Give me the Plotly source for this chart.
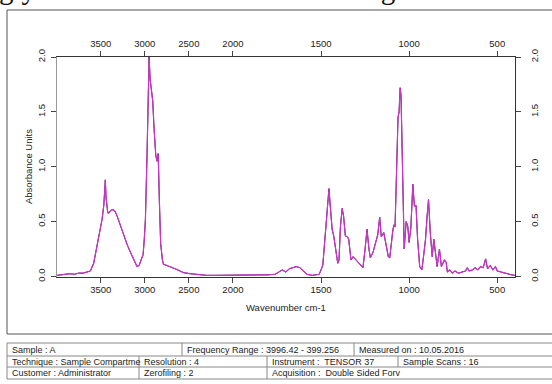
import plotly.graph_objects as go

# ---------------- data ----------------
wavenumber = [3996, 3950, 3900, 3850, 3800, 3750, 3700, 3650, 3618, 3580, 3542, 3510,
              3485, 3465, 3455, 3448, 3440, 3430, 3420, 3405, 3390, 3360, 3335, 3314,
              3280, 3238, 3200, 3163, 3120, 3088, 3065, 3050, 3030, 3019, 3005, 2993,
              2975, 2962, 2951, 2940, 2925, 2910, 2895, 2875, 2860, 2848, 2835, 2820,
              2800, 2788, 2750, 2712, 2680, 2656, 2600, 2562, 2486, 2400, 2300, 2200,
              2100, 2000, 1900, 1800, 1760, 1720, 1700, 1680, 1660, 1640, 1620, 1600,
              1580, 1550, 1510, 1490, 1481, 1470, 1460, 1455, 1448, 1437, 1428, 1415,
              1405, 1398, 1390, 1380, 1372, 1362, 1350, 1343, 1330, 1318, 1300, 1277,
              1262, 1250, 1239, 1228, 1220, 1205, 1191, 1178, 1167, 1158, 1144, 1129,
              1118, 1110, 1101, 1094, 1087, 1080, 1074, 1068, 1063, 1057, 1051, 1046,
              1041, 1034, 1028, 1017, 1008, 1000, 990, 979, 970, 961, 952, 940,
              928, 917, 907, 898, 890, 880, 869, 860, 852, 841, 828, 817,
              800, 790, 783, 770, 755, 740, 720, 700, 680, 670, 660, 640,
              625, 610, 595, 580, 566, 555, 540, 525, 510, 500, 480, 460,
              440, 420, 400]
absorbance = [0.01, 0.015, 0.02, 0.025, 0.02, 0.03, 0.03, 0.04, 0.05, 0.12, 0.28, 0.40,
              0.52, 0.65, 0.78, 0.88, 0.72, 0.62, 0.58, 0.58, 0.60, 0.61, 0.59, 0.55,
              0.47, 0.37, 0.29, 0.22, 0.14, 0.09, 0.10, 0.13, 0.17, 0.20, 0.35, 0.52,
              1.10, 1.70, 2.00, 1.80, 1.70, 1.60, 1.35, 1.10, 1.05, 1.12, 0.70, 0.30,
              0.15, 0.11, 0.10, 0.09, 0.08, 0.07, 0.05, 0.035, 0.025, 0.015, 0.01, 0.01,
              0.01, 0.01, 0.01, 0.015, 0.02, 0.06, 0.04, 0.07, 0.08, 0.09, 0.08, 0.05,
              0.02, 0.01, 0.02, 0.10, 0.28, 0.50, 0.72, 0.80, 0.65, 0.43, 0.37, 0.20,
              0.12, 0.15, 0.45, 0.62, 0.55, 0.37, 0.36, 0.34, 0.15, 0.18, 0.15, 0.11,
              0.08, 0.25, 0.43, 0.25, 0.17, 0.22, 0.31, 0.38, 0.54, 0.36, 0.40, 0.25,
              0.18, 0.17, 0.33, 0.40, 0.47, 0.45, 0.80, 1.25, 1.45, 1.50, 1.72, 1.65,
              1.25, 0.64, 0.25, 0.50, 0.46, 0.31, 0.45, 0.84, 0.64, 0.65, 0.34, 0.09,
              0.06, 0.20, 0.34, 0.55, 0.70, 0.40, 0.18, 0.34, 0.22, 0.09, 0.25, 0.09,
              0.15, 0.13, 0.04, 0.06, 0.03, 0.05, 0.03, 0.04, 0.05, 0.08, 0.05, 0.06,
              0.08, 0.06, 0.09, 0.08, 0.16, 0.07, 0.10, 0.06, 0.09, 0.05, 0.04, 0.03,
              0.02, 0.015, 0.01]

x_ticks = [3500, 3000, 2500, 2000, 1500, 1000, 500]
x_tick_labels = ["3500", "3000", "2500", "2000", "1500", "1000", "500"]
y_ticks = [0, 0.5, 1.0, 1.5, 2.0]
y_tick_labels = ["0.0", "0.5", "1.0", "1.5", "2.0"]

wn_start, wn_end = 3996.42, 399.256

table_rows = [
    [("Sample : A", 7), ("Frequency Range : 3996.42 - 399.256", 182), ("Measured on : 10.05.2016", 354)],
    [("Technique : Sample Compartme", 7), ("Resolution : 4", 139), ("Instrument :  TENSOR 37", 267), ("Sample Scans : 16", 398)],
    [("Customer : Administrator", 7), ("Zerofiling : 2", 139), ("Acquisition :  Double Sided Forv", 267)],
]

# OPUS style axis: above 2000 cm-1 the scale is compressed by a factor of two
def scale(w):
    return w if w <= 2000 else 2000 + (w - 2000) / 2.0

xs = [scale(w) for w in wavenumber]

W, H = 552, 384
ML, MR, MT, MB = 57, 37, 57, 107
PW, PH = W - ML - MR, H - MT - MB


def px(x):
    return (x - ML) / PW


def py(y):
    return (H - MB - y) / PH


fig = go.Figure()
fig.add_trace(go.Scatter(x=xs, y=absorbance, mode="lines",
                         line=dict(color="#301830", width=1.0), hoverinfo="skip",
                         showlegend=False))
fig.add_trace(go.Scatter(x=xs, y=absorbance, mode="lines",
                         line=dict(color="#cc33cc", width=1.2), hoverinfo="skip",
                         showlegend=False))
# invisible trace for the top / right axes
fig.add_trace(go.Scatter(x=[scale(wn_start)], y=[0], xaxis="x2", yaxis="y2",
                         mode="markers", marker=dict(opacity=0), hoverinfo="skip",
                         showlegend=False))

tickfont = dict(family="Liberation Sans, Arial", size=9.5, color="#222")
xr = [scale(wn_start), scale(wn_end)]
yr = [-0.005, 2.0]
common_x = dict(range=xr, tickmode="array", tickvals=[scale(v) for v in x_ticks],
                ticktext=x_tick_labels, ticks="outside", ticklen=5, tickwidth=1,
                tickcolor="#444", showline=True, linecolor="#333", linewidth=1,
                showgrid=False, zeroline=False, tickfont=tickfont)
common_y = dict(range=yr, tickmode="array", tickvals=y_ticks, ticktext=y_tick_labels,
                ticks="outside", ticklen=5, tickwidth=1, tickcolor="#444",
                showline=True, linewidth=1, showgrid=False, zeroline=False,
                tickangle=-90, tickfont=tickfont)

fig.update_layout(
    width=W, height=H,
    margin=dict(l=ML, r=MR, t=MT, b=MB, autoexpand=False),
    paper_bgcolor="white", plot_bgcolor="white",
    xaxis=dict(**common_x, side="bottom", ticklabelstandoff=-1),
    xaxis2=dict(**common_x, side="top", overlaying="x", anchor="y"),
    yaxis=dict(**common_y, side="left", linecolor="#999", ticklabelstandoff=2),
    yaxis2=dict(**common_y, side="right", overlaying="y", anchor="x", linecolor="#333",
                ticklabelstandoff=6),
)

ann = []
# clipped sentence from the page above the figure
ann.append(dict(x=px(-3), y=py(7), xref="paper", yref="paper", xanchor="left",
                yanchor="bottom", showarrow=False,
                text="glycerol-A was identified as diosgenin.",
                font=dict(family="Liberation Serif, Times New Roman", size=29, color="#111")))
ann.append(dict(x=px(286), y=py(307), xref="paper", yref="paper", showarrow=False,
                xanchor="center", yanchor="middle",
                text="Wavenumber cm-1", font=dict(family="Liberation Sans", size=9.5, color="#222")))
ann.append(dict(x=px(28), y=py(167), xref="paper", yref="paper", showarrow=False,
                xanchor="center", yanchor="middle",
                text="Absorbance Units", textangle=-90,
                font=dict(family="Liberation Sans", size=9.5, color="#222")))

shapes = []
# outer frame
shapes.append(dict(type="rect", xref="paper", yref="paper", x0=px(7), x1=px(560),
                   y0=py(334), y1=py(10), line=dict(color="#555", width=1)))
# table
row_lines = [343, 356, 367, 379]
for yl in row_lines:
    shapes.append(dict(type="line", xref="paper", yref="paper", x0=px(7), x1=px(560),
                       y0=py(yl), y1=py(yl), line=dict(color="#888", width=1)))
for r, row in enumerate(table_rows):
    y0, y1 = row_lines[r], row_lines[r + 1]
    for text, xl in row:
        shapes.append(dict(type="line", xref="paper", yref="paper", x0=px(xl), x1=px(xl),
                           y0=py(y0), y1=py(y1), line=dict(color="#888", width=1)))
        ann.append(dict(x=px(xl + 3), y=py((y0 + y1) / 2), xref="paper", yref="paper",
                        xanchor="left", yanchor="middle", showarrow=False, text=text,
                        font=dict(family="Liberation Sans", size=9, color="#222")))

fig.update_layout(annotations=ann, shapes=shapes)
fig.write_html("out.html", config={"displayModeBar": False},
               post_script="document.body.style.margin='0';document.body.style.overflow='hidden';")
